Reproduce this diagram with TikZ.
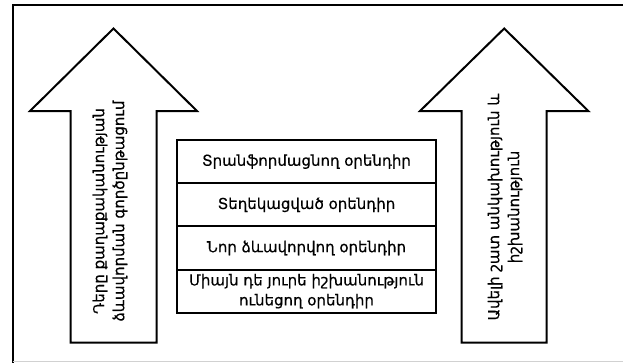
\documentclass[tikz,border=0pt]{standalone}
\usepackage{fontspec}
\setmainfont{DejaVu Sans}[FakeBold=0.5]
\begin{document}
\begin{tikzpicture}[x=1pt,y=-1pt,line width=2pt,line join=miter,
  lvl/.style={draw,minimum width=259pt,minimum height=43.2pt,inner sep=0pt,
    font=\fontsize{15}{20}\selectfont,align=center},
  arrowtext/.style={rotate=90,font=\fontsize{15}{20}\selectfont,align=center,inner sep=0pt},
  bigarrow/.style={draw,fill=white}]
\useasboundingbox (0,0) rectangle (623,362);
% outer frame (cut by the picture's right and bottom edges)
\draw (12.5,370) -- (12.5,5) -- (640,5);
\draw[line width=1pt,black!18] (12.5,361.5) -- (623,361.5);
% left arrow
\draw[bigarrow] (113.5,28.5) -- (197,111) -- (156.7,111) -- (156.7,342.7)
  -- (70.7,342.7) -- (70.7,111) -- (30,111) -- cycle;
% right arrow
\draw[bigarrow] (504.2,28.5) -- (588.3,111) -- (546.7,111) -- (546.7,342.7)
  -- (461.7,342.7) -- (461.7,111) -- (420,111) -- cycle;
\node[arrowtext] (lt) at (110,211) {Դերը քաղաքականության\\ձևավորման գործընթացում};
\node[arrowtext] (rt) at (505,207) {Ավելի շատ անկախություն և\\իշխանություն};
% stack of levels
\node[lvl] (l1) at (306.5,161.6) {Տրանֆորմացնող օրենդիր};
\node[lvl] (l2) at (306.5,204.8) {Տեղեկացված օրենդիր};
\node[lvl] (l3) at (306.5,248.0) {Նոր ձևավորվող օրենդիր};
\node[lvl] (l4) at (306.5,291.2) {Միայն դե յուրե իշխանություն\\ունեցող օրենդիր};
\end{tikzpicture}
\end{document}
